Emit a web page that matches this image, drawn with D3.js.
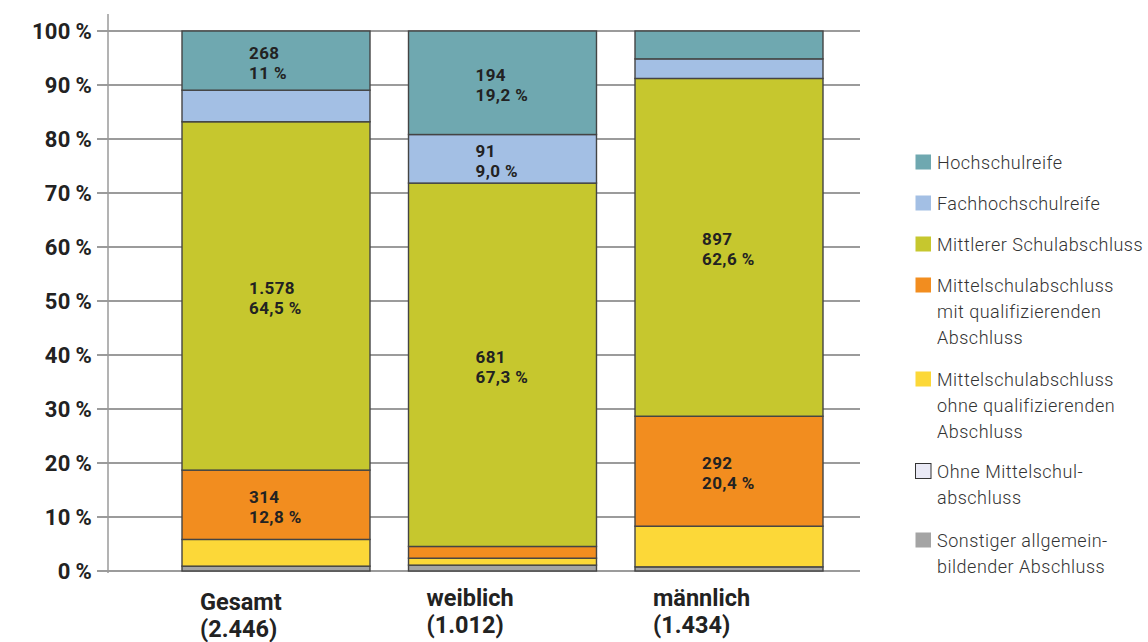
<!DOCTYPE html>
<html><head><meta charset="utf-8">
<script src="https://cdn.jsdelivr.net/npm/d3@7"></script>
<style>body{margin:0;background:#fff}svg{display:block}</style>
</head><body><svg id="c" width="1148" height="642"></svg>
<script>
const categories = ["Gesamt", "weiblich", "männlich"];
const totals = ["(2.446)", "(1.012)", "(1.434)"];
const seriesNames = ["Sonstiger allgemein-\nbildender Abschluss","Ohne Mittelschul-\nabschluss","Mittelschulabschluss\nohne qualifizierenden\nAbschluss","Mittelschulabschluss\nmit qualifizierenden\nAbschluss","Mittlerer Schulabschluss","Fachhochschulreife","Hochschulreife"];
const sonstiger = [22, 11, 11];
const ohneMittelschul = [0, 0, 0];
const msOhneQuali = [121, 13, 108];
const msMitQuali = [314, 22, 292];
const mittlerer = [1578, 681, 897];
const fachhochschulreife = [143, 91, 52];
const hochschulreife = [268, 194, 74];
const countLabels = [[null,null,null],[null,null,null],[null,null,null],["314",null,"292"],["1.578","681","897"],[null,"91",null],["268","194",null]];
const pctLabels = [[null,null,null],[null,null,null],[null,null,null],["12,8 %",null,"20,4 %"],["64,5 %","67,3 %","62,6 %"],[null,"9,0 %",null],["11 %","19,2 %",null]];
const yTicks = [0,10,20,30,40,50,60,70,80,90,100];
const colors = ["#a4a4a4","#e9e9f5","#fcd838","#f28d1f","#c6c72e","#a3bfe4","#6fa8b0"];

const seriesValues = [sonstiger, ohneMittelschul, msOhneQuali, msMitQuali, mittlerer, fachhochschulreife, hochschulreife];
const rows = categories.map((c,i)=>{
  const tot = d3.sum(seriesValues, s=>s[i]);
  const r = {cat:c};
  seriesValues.forEach((s,k)=>r["s"+k]=s[i]/tot*100);
  return r;
});
const keys = seriesValues.map((_,k)=>"s"+k);
const stacked = d3.stack().keys(keys)(rows);

const FONT = "Roboto, 'Liberation Sans', sans-serif";
const svg = d3.select("#c");
const y = d3.scaleLinear().domain([0,100]).range([571,31]);
const x = d3.scaleBand().domain(categories).range([182,823]).paddingInner(0.17).paddingOuter(0);

// gridlines
svg.append("g").selectAll("line").data(yTicks).join("line")
  .attr("x1",97).attr("x2",860).attr("y1",d=>y(d)).attr("y2",d=>y(d))
  .attr("stroke","#7a7a7a").attr("stroke-width",1.3);
// axis line
svg.append("line").attr("x1",108).attr("x2",108).attr("y1",14).attr("y2",573)
  .attr("stroke","#9a9a9a").attr("stroke-width",1.5);
// tick labels
svg.append("g").selectAll("text").data(yTicks).join("text")
  .attr("x",92).attr("y",d=>y(d)).attr("dy","0.36em").attr("text-anchor","end")
  .attr("font-family",FONT).attr("font-weight",700)
  .attr("font-size",22).attr("fill","#222").attr("letter-spacing","0.3")
  .text(d=>d+"\u2009%");

// bars
const g = svg.append("g");
stacked.forEach((layer,k)=>{
  g.append("g").selectAll("rect").data(layer).join("rect")
    .attr("x",d=>x(d.data.cat)).attr("width",x.bandwidth())
    .attr("y",d=>y(d[1])).attr("height",d=>Math.max(0,y(d[0])-y(d[1])))
    .attr("fill",colors[k]).attr("stroke","#444").attr("stroke-width",1.4);
});
// segment labels
stacked.forEach((layer,k)=>{
  layer.forEach((d,i)=>{
    if(!countLabels[k][i]) return;
    const cy = (y(d[0])+y(d[1]))/2;
    const lx = x(d.data.cat)+67;
    const t = svg.append("text")
      .attr("font-family",FONT).attr("font-weight",700)
      .attr("font-size",17).attr("letter-spacing","0.4").attr("fill","#222");
    t.append("tspan").attr("x",lx).attr("y",cy-2).text(countLabels[k][i]);
    t.append("tspan").attr("x",lx).attr("y",cy+18).text(pctLabels[k][i]);
  });
});
// category labels
categories.forEach((c,i)=>{
  const bx = x(c)+18, by = i===0 ? 610 : 606;
  const t = svg.append("text").attr("font-family",FONT)
    .attr("font-weight",700).attr("font-size",23.5).attr("fill","#222");
  t.append("tspan").attr("x",bx).attr("y",by).text(c);
  t.append("tspan").attr("x",bx).attr("y",by+27).text(totals[i]);
});
// legend
const legendY = [163,204,245,286,380,472,541];
const order = [6,5,4,3,2,1,0];
order.forEach((k,j)=>{
  const ly = legendY[j];
  svg.append("rect").attr("x",915.5).attr("y",ly-8.5).attr("width",15.5).attr("height",15)
    .attr("fill",colors[k]).attr("stroke",k===1?"#333":"none").attr("stroke-width",1);
  const t = svg.append("text").attr("font-family",FONT)
    .attr("font-weight",300).attr("font-size",18).attr("letter-spacing","0.5").attr("fill","#333");
  seriesNames[k].split("\n").forEach((ln,m)=>{
    t.append("tspan").attr("x",937).attr("y",ly+m*26).attr("dy","0.35em").text(ln);
  });
});
</script></body></html>
